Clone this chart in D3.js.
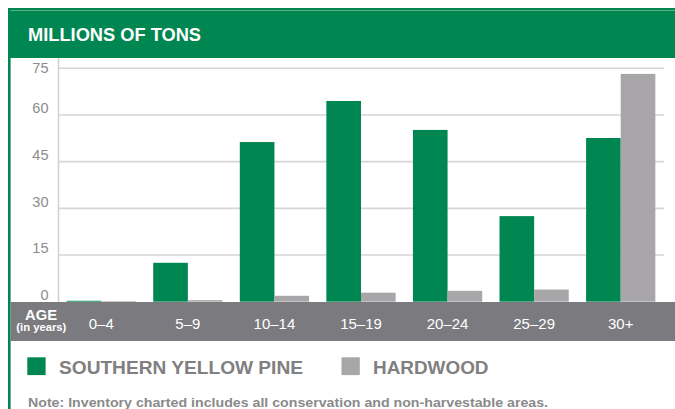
<!DOCTYPE html>
<html>
<head>
<meta charset="utf-8">
<script src="https://cdn.jsdelivr.net/npm/d3@7"></script>
<style>
  html, body { margin: 0; padding: 0; background: #fff; }
  svg { display: block; font-family: "Liberation Sans", Arial, sans-serif; }
</style>
</head>
<body>
<svg id="chart" width="675" height="409"></svg>
<script>
// Forest inventory by stand age, millions of tons
const ageGroups = ["0–4", "5–9", "10–14", "15–19", "20–24", "25–29", "30+"];
const seriesNames = ["SOUTHERN YELLOW PINE", "HARDWOOD"];
const pineValues = [0.3, 12.5, 51.3, 64.5, 55.2, 27.5, 52.6];
const hardwoodValues = [0.2, 0.5, 1.9, 2.9, 3.5, 3.9, 73.2];
const yTicks = [0, 15, 30, 45, 60, 75];

const GREEN = "#008650";
const GRAY_BAR = "#a8a6a9";
const BAND = "#7b7a7e";
const TEXT_GRAY = "#808081";

const svg = d3.select("#chart");

// frame: left rule and title banner
svg.append("rect").attr("x", 8).attr("y", 8).attr("width", 2.6).attr("height", 401).attr("fill", GREEN);
svg.append("rect").attr("x", 8).attr("y", 8).attr("width", 667).attr("height", 50).attr("fill", GREEN);
svg.append("line").attr("x1", 10.6).attr("x2", 675).attr("y1", 10.5).attr("y2", 10.5)
  .attr("stroke", "#5eb08a").attr("stroke-width", 1);
svg.append("text").attr("x", 28).attr("y", 41)
  .attr("fill", "#fff").attr("font-weight", "bold").attr("font-size", 19)
  .attr("textLength", 173).attr("lengthAdjust", "spacingAndGlyphs")
  .text("MILLIONS OF TONS");

// scales
const plotLeft = 58, plotRight = 664, yZero = 301.7, yTop = 68.3;
const y = d3.scaleLinear().domain([0, 75]).range([yZero, yTop]);
const x0 = d3.scaleBand().domain(ageGroups).range([plotLeft, plotRight])
  .paddingInner(0.2).paddingOuter(0.1);
const x1 = d3.scaleBand().domain(seriesNames).range([0, x0.bandwidth()]);
const color = d3.scaleOrdinal().domain(seriesNames).range([GREEN, GRAY_BAR]);

// gridlines
svg.append("g").selectAll("line").data(yTicks.filter(d => d > 0)).join("line")
  .attr("x1", plotLeft).attr("x2", plotRight)
  .attr("y1", d => y(d)).attr("y2", d => y(d))
  .attr("stroke", "#d6d6d6").attr("stroke-width", 1.6);

// vertical axis rule
svg.append("line").attr("x1", plotLeft + 0.5).attr("x2", plotLeft + 0.5)
  .attr("y1", 58).attr("y2", yZero)
  .attr("stroke", "#d2d2d2").attr("stroke-width", 1.6);

// y tick labels sit just above their gridline, kept below the banner
svg.append("g").selectAll("text").data(yTicks).join("text")
  .attr("x", 48.5)
  .attr("y", d => Math.max(y(d) - 1.6, 72.6))
  .attr("text-anchor", "end")
  .attr("fill", "#8c8c8c").attr("font-size", 14.5)
  .text(d => d);

// bars
const rows = ageGroups.map((g, i) => ({
  group: g,
  values: [
    { key: seriesNames[0], value: pineValues[i] },
    { key: seriesNames[1], value: hardwoodValues[i] }
  ]
}));

svg.append("g").selectAll("g").data(rows).join("g")
  .attr("transform", d => `translate(${x0(d.group)},0)`)
  .selectAll("rect").data(d => d.values).join("rect")
  .attr("x", d => x1(d.key))
  .attr("width", x1.bandwidth())
  .attr("y", d => y(d.value))
  .attr("height", d => yZero - y(d.value))
  .attr("fill", d => color(d.key));

// category band
svg.append("rect").attr("x", 10.6).attr("y", 302).attr("width", 664.4).attr("height", 39).attr("fill", BAND);

svg.append("text").attr("x", 41).attr("y", 320.2)
  .attr("text-anchor", "middle").attr("fill", "#fff")
  .attr("font-weight", "bold").attr("font-size", 14)
  .attr("textLength", 32).attr("lengthAdjust", "spacingAndGlyphs")
  .text("AGE");
svg.append("text").attr("x", 41.3).attr("y", 331)
  .attr("text-anchor", "middle").attr("fill", "#fff")
  .attr("font-weight", "bold").attr("font-size", 10.2)
  .attr("textLength", 50).attr("lengthAdjust", "spacingAndGlyphs")
  .text("(in years)");

svg.append("g").selectAll("text").data(ageGroups).join("text")
  .attr("x", d => x0(d) + x0.bandwidth() / 2)
  .attr("y", 328.5)
  .attr("text-anchor", "middle")
  .attr("fill", "#fff").attr("font-size", 15)
  .text(d => d);

// legend
const legendItems = [
  { key: seriesNames[0], sx: 27.3, tx: 59, tw: 244 },
  { key: seriesNames[1], sx: 341.5, tx: 373, tw: 115.5 }
];
const lg = svg.append("g").selectAll("g").data(legendItems).join("g");
lg.append("rect")
  .attr("x", d => d.sx).attr("y", 357.3).attr("width", 18.3).attr("height", 17.8)
  .attr("fill", d => color(d.key));
lg.append("text")
  .attr("x", d => d.tx).attr("y", 374.4)
  .attr("fill", TEXT_GRAY).attr("font-weight", "bold").attr("font-size", 19)
  .attr("textLength", d => d.tw).attr("lengthAdjust", "spacingAndGlyphs")
  .text(d => d.key);

// footnote
svg.append("text").attr("x", 28).attr("y", 406.5)
  .attr("fill", "#8a8a8a").attr("font-weight", "bold").attr("font-size", 13.5)
  .attr("textLength", 520).attr("lengthAdjust", "spacingAndGlyphs")
  .text("Note: Inventory charted includes all conservation and non-harvestable areas.");
</script>
</body>
</html>
